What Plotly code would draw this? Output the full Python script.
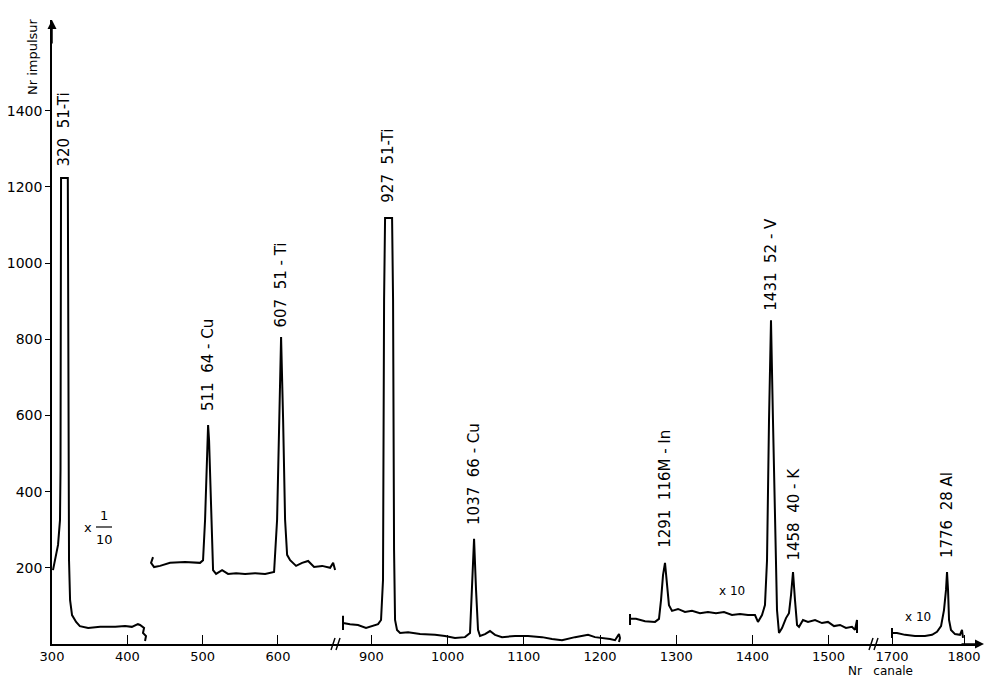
import plotly.graph_objects as go

# ---------------- data (channel number, counts) ----------------
# segment 1 : 320 keV region, drawn x 1/10
seg1_ch = [301.3, 304.0, 308.0, 310.6, 311.3, 312.0, 321.0, 322.6, 324.0, 326.6, 332.0, 337.0,
           348.0, 364.0, 384.0, 397.0, 406.0, 414.0, 416.9, 422.2, 420.8, 424.8, 423.5]
seg1_cnt = [194, 220, 260, 325, 457, 1223, 1223, 220, 115, 76, 58, 47,
            42, 45, 45, 47, 45, 52, 50, 42, 29, 21, 8]

# segment 2 : 511 / 607 region (displaced curve)
seg2_ch = [434.1, 431.5, 435.5, 443.4, 456.7, 476.6, 496.5, 500.5, 503.2, 505.8, 507.2, 508.5,
           511.2, 513.8, 517.8, 525.8, 533.7, 544.4, 556.3, 569.6, 582.9, 594.8, 598.8, 601.5,
           604.1, 606.8, 609.4, 612.1, 616.1, 624.0, 632.0, 640.0, 647.9, 658.6, 669.2, 673.2, 675.8]
seg2_cnt = [228, 213, 202, 205, 213, 215, 213, 220, 326, 535, 575, 535,
            326, 194, 184, 194, 184, 186, 184, 186, 184, 189, 326, 588,
            806, 588, 326, 234, 220, 205, 213, 218, 202, 205, 200, 213, 194]

# segment 3 : 870 - 1230
seg3_ch = [862.7, 862.7, 862.7, 871.9, 882.4, 892.9, 900.8, 908.7, 912.6, 915.2, 916.6, 917.9,
           927.1, 928.4, 929.7, 931.0, 933.6, 937.6, 948.1, 963.8, 983.5, 996.6, 1009.7, 1022.8,
           1029.4, 1032.0, 1034.7, 1037.3, 1039.9, 1042.5, 1049.1, 1055.6, 1062.2, 1071.4, 1088.5,
           1105.5, 1123.9, 1137.0, 1150.1, 1167.2, 1184.3, 1193.4, 1202.6, 1213.1, 1219.7,
           1224.9, 1226.2, 1224.9]
seg3_cnt = [74, 37, 55, 52, 50, 42, 47, 52, 63, 168, 903, 1118,
            1118, 903, 247, 63, 37, 29, 31, 26, 24, 21, 16, 18,
            29, 142, 276, 142, 37, 21, 26, 34, 24, 18, 21,
            21, 18, 13, 10, 18, 24, 18, 16, 13, 10,
            26, 16, 5]

# segment 4 : 1240 - 1540, drawn x 10
seg4_ch = [1239.4, 1239.4, 1239.4, 1247.2, 1259.1, 1272.2, 1277.4, 1280.1, 1282.7, 1285.3, 1287.9,
           1290.5, 1294.5, 1302.4, 1311.5, 1320.7, 1331.2, 1341.7, 1352.2, 1362.7, 1373.2, 1383.7,
           1394.2, 1403.4, 1407.3, 1412.6, 1416.5, 1419.2, 1421.8, 1424.4, 1427.0, 1429.7, 1432.3,
           1434.9, 1438.9, 1444.1, 1448.0, 1450.7, 1453.3, 1455.9, 1458.6, 1461.2, 1466.4, 1473.0,
           1482.2, 1491.3, 1499.2, 1507.1, 1515.0, 1522.8, 1530.7, 1534.6, 1537.3, 1537.3]
seg4_cnt = [79, 50, 66, 66, 60, 58, 66, 116, 181, 213, 155,
            102, 87, 92, 84, 87, 81, 84, 81, 84, 76, 79,
            76, 76, 58, 76, 102, 220, 588, 850, 588, 299, 89,
            29, 42, 68, 81, 129, 189, 115, 50, 45, 63, 58,
            63, 55, 58, 47, 50, 42, 45, 37, 63, 29]

# segment 5 : 1700 - 1800, drawn x 10
seg5_ch = [1700.0, 1700.0, 1700.0, 1706.9, 1718.1, 1731.9, 1745.8, 1755.6, 1762.5, 1768.1, 1772.2,
           1775.0, 1776.4, 1777.8, 1779.2, 1781.9, 1787.5, 1794.4, 1797.2, 1798.6]
seg5_cnt = [42, 16, 29, 29, 24, 21, 21, 24, 32, 47, 89,
            142, 189, 142, 63, 37, 26, 24, 37, 16]

# peak labels
label_axis = ["x", "x", "x", "x2", "x2", "x2", "x2", "x2", "x3"]
label_ch = [316.5, 507.2, 604.1, 922.5, 1034.7, 1285.3, 1424.4, 1453.3, 1776.4]
label_cnt = [1223, 575, 806, 1118, 276, 213, 850, 189, 189]
label_text = ["320\u00a0\u00a051-Ti", "511\u00a0\u00a064 - Cu", "607\u00a0\u00a051 - Ti",
              "927\u00a0\u00a051-Ti", "1037\u00a0\u00a066 - Cu", "1291\u00a0\u00a0116M - In",
              "1431\u00a0\u00a052 - V", "1458\u00a0\u00a040 - K", "1776\u00a0\u00a028 Al"]
label_shift = [10, 12, 7, 13, 12, 13, 8, 9, 12]

# tick labels
x1_ticks = [300, 400, 500, 600]
x2_ticks = [900, 1000, 1100, 1200, 1300, 1400, 1500]
x3_ticks = [1700, 1800]
y_ticks = [200, 400, 600, 800, 1000, 1200, 1400]

# ---------------- layout geometry ----------------
PL, PW, PB, PH = 52, 928, 644, 624
def px(x):
    return (x - PL) / PW
def py(y):
    return (PB - y) / PH

FONT = "DejaVu Sans, Liberation Sans, sans-serif"
line = dict(color="black", width=2)

fig = go.Figure()
for xs, ys, ax in [(seg1_ch, seg1_cnt, "x"), (seg2_ch, seg2_cnt, "x"),
                   (seg3_ch, seg3_cnt, "x2"), (seg4_ch, seg4_cnt, "x2"),
                   (seg5_ch, seg5_cnt, "x3")]:
    fig.add_trace(go.Scatter(x=xs, y=ys, xaxis=ax, yaxis="y", mode="lines",
                             line=line, hoverinfo="x+y"))

common_x = dict(showline=True, linecolor="black", linewidth=1.5, showgrid=False,
                zeroline=False, ticks="inside", ticklen=9, tickwidth=1.2,
                tickcolor="black", tickfont=dict(family=FONT, size=13, color="black"),
                anchor="y", fixedrange=True, automargin=False)

d1, d2 = px(336), px(874)
fig.update_layout(
    width=985, height=682,
    margin=dict(l=PL, r=985 - PL - PW, t=20, b=38, autoexpand=False),
    paper_bgcolor="white", plot_bgcolor="white", showlegend=False,
    xaxis=dict(domain=[0, d1], range=[300, 677], tickvals=x1_ticks, **common_x),
    xaxis2=dict(domain=[d1, d2], range=[853.5, 1559.6], tickvals=x2_ticks, **common_x),
    xaxis3=dict(domain=[d2, 1], range=[1675, 1822.2], tickvals=x3_ticks, **common_x),
    yaxis=dict(range=[0, 1638], tickvals=y_ticks, showline=True, linecolor="black",
               linewidth=1.5, showgrid=False, zeroline=False, ticks="outside",
               ticklen=5, tickwidth=1.2, tickcolor="black", automargin=False,
               tickfont=dict(family=FONT, size=14, color="black"), fixedrange=True),
)

ann = []
for a, c, v, t, s in zip(label_axis, label_ch, label_cnt, label_text, label_shift):
    ann.append(dict(x=c, y=v, xref=a, yref="y", text=t, textangle=-90, showarrow=False,
                    xanchor="center", yanchor="bottom", yshift=s,
                    font=dict(family=FONT, size=15, color="black")))

def note(x, y, text, size=13, angle=0):
    return dict(x=px(x), y=py(y), xref="paper", yref="paper", text=text, showarrow=False,
                xanchor="center", yanchor="middle", textangle=angle,
                font=dict(family=FONT, size=size, color="black"))

ann += [
    note(88, 527, "x"),
    note(104, 515, "1"),
    note(104, 539, "10"),
    note(732, 591, "x 10", 12),
    note(918, 617, "x 10", 12),
    note(32, 57, "Nr impulsur", 13, -90),
    note(880, 671, "Nr\u00a0\u00a0\u00a0canale", 12),
    # axis arrows
    dict(x=0, y=1, xref="paper", yref="paper", ax=0, ay=25, text="", showarrow=True,
         arrowhead=2, arrowsize=1.2, arrowwidth=1.5, arrowcolor="black"),
    dict(x=px(985), y=0, xref="paper", yref="paper", ax=-25, ay=0, text="", showarrow=True,
         arrowhead=2, arrowsize=1.2, arrowwidth=1.5, arrowcolor="black"),
]

shapes = [dict(type="line", xref="paper", yref="paper",
               x0=px(96), x1=px(112), y0=py(527), y1=py(527),
               line=dict(color="black", width=1.2))]
# axis break marks (two slanted strokes at each break)
for bx in (336, 874):
    for off in (-3, 2):
        shapes.append(dict(type="line", xref="paper", yref="paper",
                           x0=px(bx + off - 2), x1=px(bx + off + 2),
                           y0=py(650), y1=py(638),
                           line=dict(color="black", width=1.4)))

fig.update_layout(annotations=ann, shapes=shapes)

fig.write_html("out.html", config={"displayModeBar": False},
               post_script="document.body.style.margin='0';")
